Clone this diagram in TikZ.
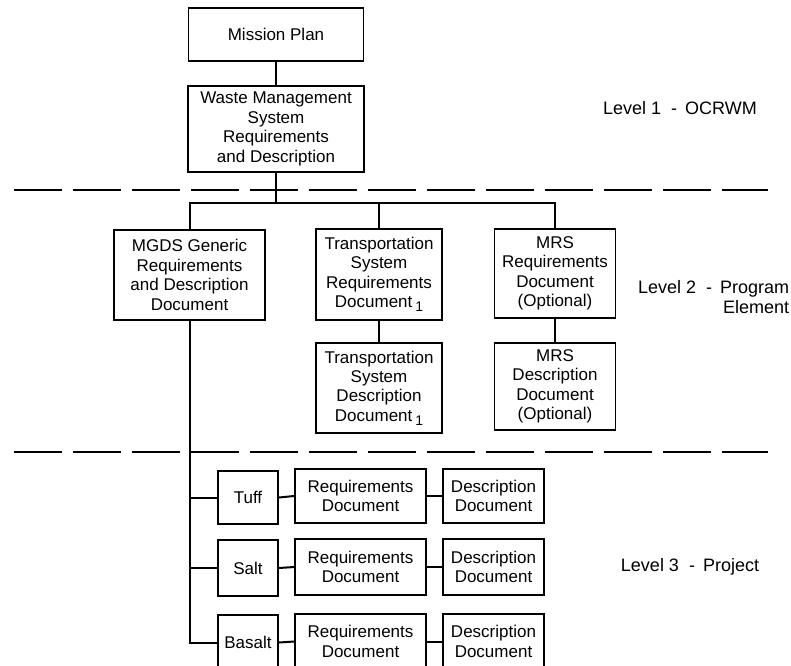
\documentclass[tikz,border=0pt]{standalone}
\usepackage{fontspec}
\setmainfont{Liberation Sans}

\newcommand{\docsub}{\,\raisebox{-4pt}{\fontsize{14}{14}\selectfont 1}}

\begin{document}
\begin{tikzpicture}[x=1pt, y=-1pt, line width=1.8pt]
        \tikzset{
            doc/.style={draw, rectangle, align=center, inner sep=2pt, font=\fontsize{17}{19.4}\selectfont},
            levellabel/.style={font=\fontsize{18}{20}\selectfont, align=right, inner sep=0pt},
            line/.style={draw, line width=2pt},
            divider/.style={draw, line width=2pt, dash pattern=on 48pt off 11pt}
        }
        \clip (0,0) rectangle (791,665);

        % Level 1
        \node [doc, minimum width=175, minimum height=53] (mission) at (276, 34.5) {Mission Plan};
        \node [doc, minimum width=176, minimum height=86] (wms) at (276, 129) {Waste Management\\System\\Requirements\\and Description};

        % Level 2
        \node [doc, minimum width=151, minimum height=90] (mgds) at (189.5, 275) {MGDS Generic\\Requirements\\and Description\\Document};
        \node [doc, minimum width=126, minimum height=91] (tsreq) at (379, 274.5) {Transportation\\System\\Requirements\\Document\docsub};
        \node [doc, minimum width=121, minimum height=89] (mrsreq) at (555, 273.5) {MRS\\Requirements\\Document\\(Optional)};
        \node [doc, minimum width=126, minimum height=90] (tsdesc) at (379, 388) {Transportation\\System\\Description\\Document\docsub};
        \node [doc, minimum width=121, minimum height=87] (mrsdesc) at (555, 386.5) {MRS\\Description\\Document\\(Optional)};

        % Level 3
        \node [doc, minimum width=60, minimum height=53] (tuff) at (248, 497.5) {Tuff};
        \node [doc, minimum width=131, minimum height=54] (tuffreq) at (360.5, 496) {Requirements\\Document};
        \node [doc, minimum width=101, minimum height=54] (tuffdesc) at (493.5, 496) {Description\\Document};
        \node [doc, minimum width=60, minimum height=56] (salt) at (248, 568) {Salt};
        \node [doc, minimum width=131, minimum height=56] (saltreq) at (360.5, 567) {Requirements\\Document};
        \node [doc, minimum width=101, minimum height=56] (saltdesc) at (493.5, 567) {Description\\Document};
        \node [doc, minimum width=60, minimum height=55] (basalt) at (248, 642.5) {Basalt};
        \node [doc, minimum width=131, minimum height=55] (basaltreq) at (360.5, 641.5) {Requirements\\Document};
        \node [doc, minimum width=101, minimum height=55] (basaltdesc) at (493.5, 641.5) {Description\\Document};

        % Level labels
        \node [levellabel] (lev1) at (680, 108) {Level 1 \ -\ \,OCRWM};
        \node [levellabel, anchor=east] (lev2) at (790, 297) {Level 2 \ -\ \,Program\\Element};
        \node [levellabel] (lev3) at (690, 567) {Level 3 \ -\ \,Project};

        % Level dividers
        \coordinate (divL1) at (14, 190);
        \coordinate (divR1) at (768, 190);
        \coordinate (divL2) at (14, 452);
        \coordinate (divR2) at (768, 452);
        \draw [divider] (divL1) -- (divR1);
        \draw [divider] (divL2) -- (divR2);

        % Level 1 connections
        \draw [line] (mission.south) -- (wms.north);
        \coordinate (bus) at (278, 203);
        \draw [line] (wms.south) -- (wms.south |- bus);
        \draw [line] (mgds.north) -- (mgds.north |- bus) -- (mrsreq.north |- bus) -- (mrsreq.north);
        \draw [line] (tsreq.north |- bus) -- (tsreq.north);

        % Level 2 connections
        \draw [line] (tsreq.south) -- (tsdesc.north);
        \draw [line] (mrsreq.south) -- (mrsdesc.north);
        \draw [line] (mgds.south) -- (mgds.south |- basalt.west) -- (basalt.west);
        \draw [line] (mgds.south |- tuff.west) -- (tuff.west);
        \draw [line] (mgds.south |- salt.west) -- (salt.west);

        % Level 3 connections
        \draw [line] (tuff.east) -- (tuffreq.west);
        \draw [line] (tuffreq.east) -- (tuffdesc.west);
        \draw [line] (salt.east) -- (saltreq.west);
        \draw [line] (saltreq.east) -- (saltdesc.west);
        \draw [line] (basalt.east) -- (basaltreq.west);
        \draw [line] (basaltreq.east) -- (basaltdesc.west);

    \end{tikzpicture}
\end{document}
